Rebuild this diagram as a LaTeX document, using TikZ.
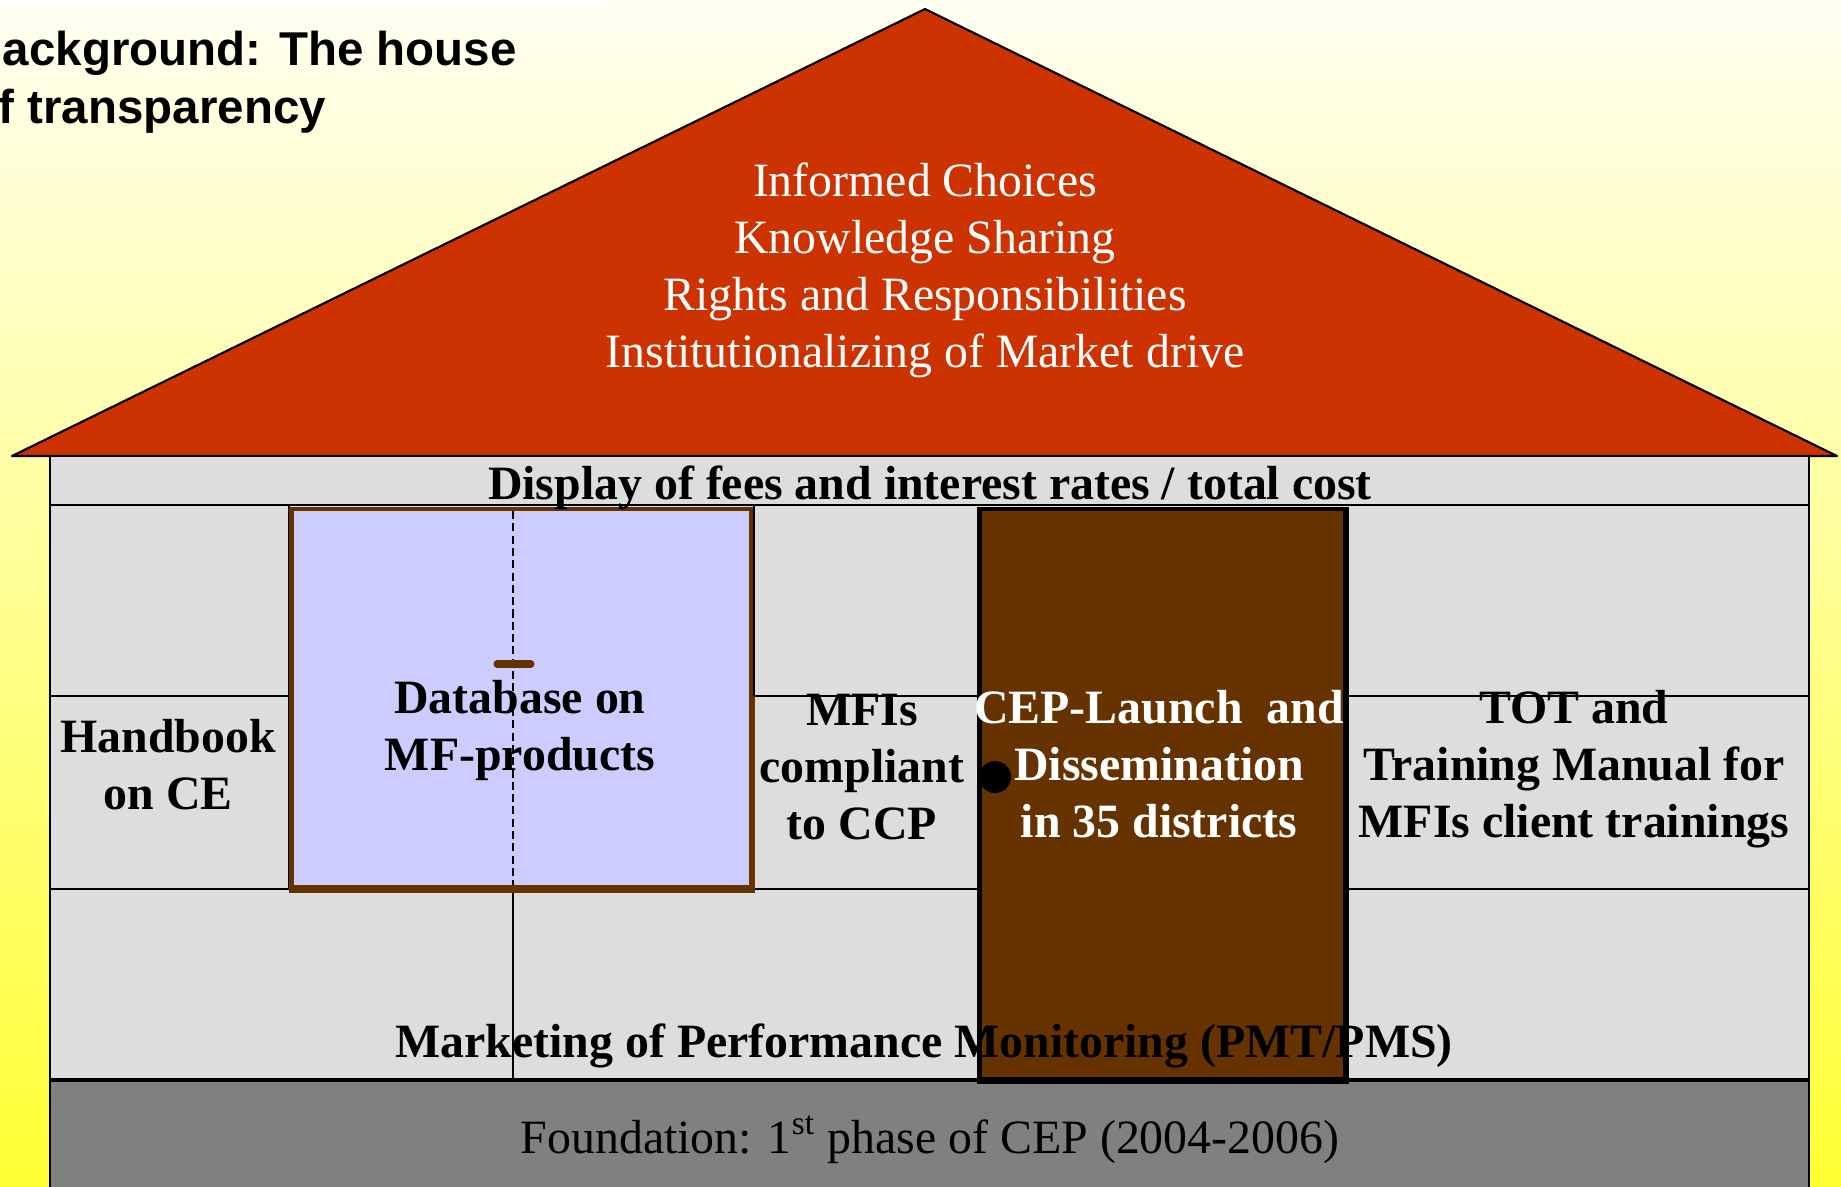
\documentclass[tikz,border=0pt]{standalone}
\usepackage{fontspec}
\setmainfont{Liberation Serif}
\newfontfamily\titlefont{Liberation Sans}
\usepackage{xcolor}
\definecolor{bgtop}{HTML}{FFFFF2}
\definecolor{bgbottom}{HTML}{FFFF33}
\definecolor{roofred}{HTML}{CC3300}
\definecolor{wallgray}{HTML}{DDDDDD}
\definecolor{dbblue}{HTML}{CCCCFF}
\definecolor{doorbrown}{HTML}{663300}
\definecolor{basegray}{HTML}{808080}
\newcommand\housesize{\fontsize{13.6pt}{16.3pt}\selectfont}
\tikzset{
  wallline/.style={line width=0.7pt},
  rooftext/.style={anchor=base,inner sep=0pt,text=white,font=\housesize},
  celltext/.style={anchor=base,inner sep=0pt,font=\housesize\bfseries},
  doortext/.style={celltext,text=white},
  basetext/.style={anchor=base,inner sep=0pt,font=\housesize},
  titletext/.style={anchor=base west,inner sep=0pt,font=\titlefont\bfseries\fontsize{13.5pt}{16pt}\selectfont}
}

\begin{document}
\begin{tikzpicture}[x=0.01cm,y=-0.01cm]
\useasboundingbox (0,0) rectangle (1841,1187);
\clip (0,0) rectangle (1841,1187);
\shade[top color=bgtop,bottom color=bgbottom] (0,0) rectangle (1841,1187);
\fill[white] (0,0) rectangle (604,8);

\node[titletext] (title1) at (-32,65) {Background: The house};
\node[titletext] (title2) at (-31,123) {of transparency};

\filldraw[fill=roofred,line width=0.6pt,line join=round] (12,456) -- (925,9) -- (1837,456) -- cycle;

\filldraw[fill=wallgray,wallline] (50,456) rectangle (1809,1080);
\fill[basegray] (50,1080) rectangle (1809,1187);
\draw[wallline] (50,1080) -- (50,1187) (1809,1080) -- (1809,1187);
\draw[wallline] (50,505) -- (1809,505);
\foreach \y in {696,889} {
  \draw[wallline] (50,\y) -- (290,\y);
  \draw[wallline] (752,\y) -- (978,\y);
  \draw[wallline] (1345,\y) -- (1809,\y);
}
\draw[wallline] (289,505) -- (289,889);
\draw[wallline] (513,889) -- (513,1080);
\draw[line width=1pt] (50,1080) -- (1809,1080);

\fill[doorbrown] (289,507) rectangle (755,893);
\fill[dbblue] (294,511) rectangle (749,885);
\draw[wallline] (754,505) -- (754,696);
\draw[line width=0.45pt,dash pattern=on 2.3pt off 1.2pt] (513,511) -- (513,885);
\draw[doorbrown,line width=2pt,line cap=round] (497,664) -- (531,664);

\fill[black] (977,507) rectangle (1349,1084);
\fill[doorbrown] (982,511) rectangle (1343,1077);
\fill[black] (995,777) circle[radius=0.16cm];

\foreach \txt [count=\i] in {Informed Choices,Knowledge Sharing,Rights and Responsibilities,Institutionalizing of Market drive}
  \node[rooftext] (roof\i) at (925,139+57*\i) {\txt};

\node[celltext] (display) at (930,499) {Display of fees and interest rates / total cost};

\foreach \txt [count=\i] in {Handbook,on CE}
  \node[celltext] (handbook\i) at (168,695+57*\i) {\txt};
\foreach \txt [count=\i] in {Database on,MF-products}
  \node[celltext] (database\i) at (520,656+57*\i) {\txt};
\foreach \txt [count=\i] in {MFIs,compliant,to CCP}
  \node[celltext] (mfis\i) at (862,668+57*\i) {\txt};
\foreach \txt [count=\i] in {CEP-Launch~~and,Dissemination,in 35 districts}
  \node[doortext] (cep\i) at (1159,666+57*\i) {\txt};
\foreach \txt [count=\i] in {TOT and,Training Manual for,MFIs client trainings}
  \node[celltext] (tot\i) at (1574,666+57*\i) {\txt};

\node[celltext] (marketing) at (924,1057) {Marketing of Performance Monitoring (PMT/PMS)};
\node[basetext] (foundation) at (930,1153) {Foundation: 1\textsuperscript{st} phase of CEP (2004-2006)};
\end{tikzpicture}
\end{document}
